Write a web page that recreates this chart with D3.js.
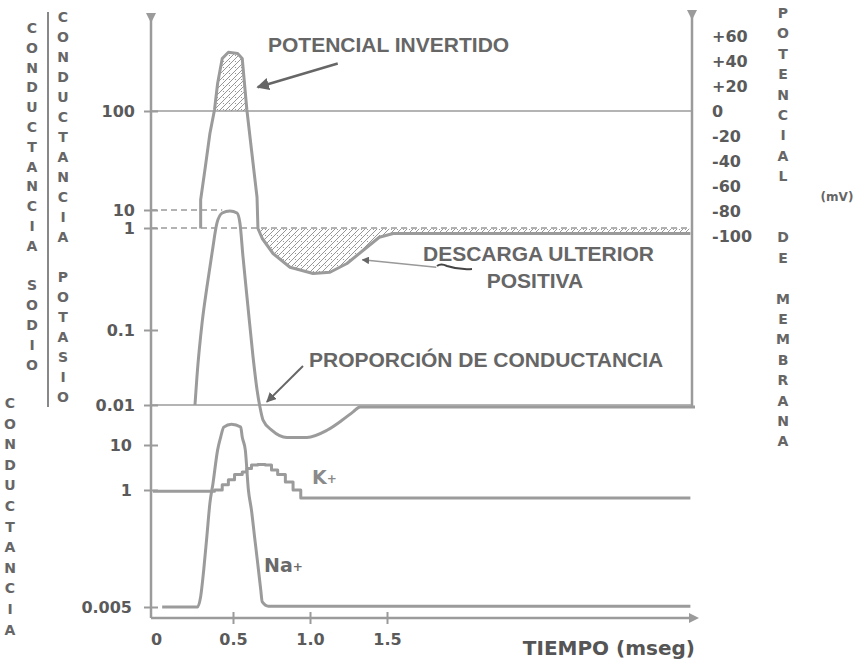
<!DOCTYPE html>
<html>
<head>
<meta charset="utf-8">
<title>Potencial de membrana y conductancias</title>
<style>
  body { margin: 0; background: #fff; }
  text { font-family: "DejaVu Sans", sans-serif; }
  .rotulo { font-family: "Liberation Sans", Arial, sans-serif; font-size: 21px; font-weight: bold; fill: #666; }
  .tick text { font-family: "DejaVu Sans", sans-serif; font-size: 16px; font-weight: bold; fill: #5a5a5a; }
  .letra { font-size: 14px; font-weight: bold; fill: #666; }
</style>
<script src="https://d3js.org/d3.v7.min.js"></script>
</head>
<body>
<svg id="viz"></svg>
<script>
// ---- datos ----
// tiempo (mseg)
var tiempoTicks = [0, 0.5, 1.0, 1.5];
var tiempoTxt = ["0", "0.5", "1.0", "1.5"];

// potencial de membrana (mV)
var tPotencial = [0.29, 0.29, 0.32, 0.35, 0.38, 0.40, 0.43, 0.47, 0.53, 0.56, 0.59, 0.62, 0.656, 0.662, 0.69, 0.76, 0.87, 1.02, 1.13, 1.24, 1.37, 1.45, 1.54, 1.63, 3.47];
var potencial  = [-94, -71, -45, -18, 1, 22, 42, 47, 46, 42, 1, -31, -69, -94, -102, -114, -125, -130, -129, -122, -109, -101, -98, -98, -98];
var reposo = -94;

// proporcion de conductancia (escala log)
var tProporcion = [0.253, 0.266, 0.30, 0.33, 0.364, 0.396, 0.43, 0.48, 0.526, 0.545, 0.565, 0.597, 0.63, 0.656, 0.675, 0.695, 0.753, 0.85, 0.98, 1.11, 1.21, 1.28, 1.325, 3.5];
var proporcion  = [0.01, 0.024, 0.12, 0.26, 0.57, 1.9, 6.8, 8.8, 6.8, 1.9, 0.52, 0.17, 0.044, 0.016, 0.0094, 0.0063, 0.0046, 0.0037, 0.0037, 0.0046, 0.0063, 0.0081, 0.0094, 0.0094];

// conductancia Na+ y K+
var tNa = [0.04, 0.27, 0.29, 0.31, 0.33, 0.35, 0.37, 0.40, 0.42, 0.44, 0.49, 0.55, 0.56, 0.58, 0.60, 0.62, 0.64, 0.66, 0.68, 0.69, 0.73, 3.47];
var gNa = [0.005, 0.005, 0.008, 0.027, 0.12, 0.55, 1.4, 7.7, 15, 25, 29, 25, 15, 7.7, 1, 0.4, 0.12, 0.037, 0.011, 0.0063, 0.0052, 0.0052];
var tK = [-0.02, 0.35, 0.38, 0.43, 0.47, 0.51, 0.56, 0.59, 0.62, 0.66, 0.71, 0.75, 0.79, 0.84, 0.89, 0.94, 3.47];
var gK = [0.95, 0.95, 1.0, 1.3, 1.7, 2.2, 2.5, 3.0, 3.6, 3.7, 3.6, 2.8, 2.2, 1.5, 1.0, 0.7, 0.7];

// marcas de los ejes
var ticksProporcion = [100, 10, 1, 0.1, 0.01];
var ticksProporcionTxt = ["100", "10", "1", "0.1", "0.01"];
var ticksMV = [60, 40, 20, 0, -20, -40, -60, -80, -100];
var ticksMVTxt = ["+60", "+40", "+20", "0", "-20", "-40", "-60", "-80", "-100"];
var ticksCond = [10, 1, 0.005];
var ticksCondTxt = ["10", "1", "0.005"];

// ---- dibujo ----
var width = 863, height = 665;
var gris = "#9b9b9b";
var svg = d3.select("#viz").attr("width", width).attr("height", height);

var x = d3.scaleLinear().domain([0, 3.5]).range([156, 695]);
var yProp = d3.scaleLog().domain([0.01, 0.1, 1, 10, 100]).range([405, 330, 228, 210, 111]);
var yMV = d3.scaleLinear().domain([-100, 60]).range([236, 36]);
var yCond = d3.scaleLog().domain([0.005, 1, 10]).range([607, 490, 445]);

var ejeX = 151, ejeDer = 692, ejeAbajo = 618;

var defs = svg.append("defs");
var pat = defs.append("pattern").attr("id", "rayado")
  .attr("patternUnits", "userSpaceOnUse").attr("width", 6).attr("height", 6);
pat.append("path").attr("d", "M-1,1 l2,-2 M0,6 l6,-6 M5,7 l2,-2")
  .attr("stroke", "#8a8a8a").attr("stroke-width", 0.9);
pat.append("circle").attr("cx", 1.5).attr("cy", 1.5).attr("r", 0.6).attr("fill", "#888");

defs.append("marker").attr("id", "punta").attr("viewBox", "0 0 10 10")
  .attr("refX", 9).attr("refY", 5).attr("markerWidth", 5).attr("markerHeight", 5)
  .attr("orient", "auto-start-reverse")
  .append("path").attr("d", "M0,0 L10,5 L0,10 z").attr("fill", "#666");
defs.append("marker").attr("id", "flecha").attr("viewBox", "0 0 10 10")
  .attr("refX", 5).attr("refY", 5).attr("markerWidth", 4).attr("markerHeight", 4)
  .attr("orient", "auto")
  .append("path").attr("d", "M0,0 L10,5 L0,10 z").attr("fill", gris);

// clips para el rayado
defs.append("clipPath").attr("id", "clipArriba").append("rect")
  .attr("x", 0).attr("y", 0).attr("width", width).attr("height", yMV(0));
defs.append("clipPath").attr("id", "clipAbajo").append("rect")
  .attr("x", x(0.6)).attr("y", yMV(reposo)).attr("width", width).attr("height", 200);

var datosPot = tPotencial.map(function(t, i) { return {t: t, v: potencial[i]}; });
var datosProp = tProporcion.map(function(t, i) { return {t: t, v: proporcion[i]}; });
var datosNa = tNa.map(function(t, i) { return {t: t, v: gNa[i]}; });
var datosK = tK.map(function(t, i) { return {t: t, v: gK[i]}; });

// lineas de referencia
svg.append("line").attr("x1", ejeX).attr("x2", ejeDer)
  .attr("y1", yProp(100)).attr("y2", yProp(100))
  .attr("stroke", gris).attr("stroke-width", 1.5);
svg.append("line").attr("x1", ejeX).attr("x2", ejeDer)
  .attr("y1", yProp(0.01)).attr("y2", yProp(0.01))
  .attr("stroke", gris).attr("stroke-width", 1.5);
svg.append("line").attr("x1", ejeX).attr("x2", ejeDer)
  .attr("y1", yProp(1)).attr("y2", yProp(1))
  .attr("stroke", gris).attr("stroke-width", 1.5).attr("stroke-dasharray", "6,4");
svg.append("line").attr("x1", ejeX).attr("x2", x(0.43))
  .attr("y1", yProp(10)).attr("y2", yProp(10))
  .attr("stroke", gris).attr("stroke-width", 1.5).attr("stroke-dasharray", "6,4");

// rayado del potencial
var areaArriba = d3.area().x(function(d) { return x(d.t); })
  .y0(yMV(0)).y1(function(d) { return yMV(d.v); });
var areaAbajo = d3.area().x(function(d) { return x(d.t); })
  .y0(yMV(reposo)).y1(function(d) { return yMV(d.v); });
svg.append("path").datum(datosPot).attr("d", areaArriba)
  .attr("fill", "url(#rayado)").attr("clip-path", "url(#clipArriba)");
svg.append("path").datum(datosPot.filter(function(d) { return d.t > 0.6; })).attr("d", areaAbajo)
  .attr("fill", "url(#rayado)").attr("clip-path", "url(#clipAbajo)");

// curvas
var lineaPot = d3.line().x(function(d) { return x(d.t); }).y(function(d) { return yMV(d.v); });
var lineaProp = d3.line().x(function(d) { return x(d.t); }).y(function(d) { return yProp(d.v); })
  .curve(d3.curveMonotoneX);
var lineaNa = d3.line().x(function(d) { return x(d.t); }).y(function(d) { return yCond(d.v); })
  .curve(d3.curveMonotoneX);
var lineaK = d3.line().x(function(d) { return x(d.t); }).y(function(d) { return yCond(d.v); })
  .curve(d3.curveStepAfter);

function curva(datos, gen) {
  svg.append("path").datum(datos).attr("d", gen)
    .attr("fill", "none").attr("stroke", gris).attr("stroke-width", 3)
    .attr("stroke-linejoin", "round");
}
curva(datosPot, lineaPot);
curva(datosProp, lineaProp);
curva(datosNa, lineaNa);
curva(datosK, lineaK);

// ejes
var gIzq = svg.append("g").attr("transform", "translate(" + ejeX + ",0)")
  .call(d3.axisLeft(yProp).tickValues(ticksProporcion)
    .tickFormat(function(d, i) { return ticksProporcionTxt[i]; })
    .tickSize(7).tickPadding(9));
var gIzq2 = svg.append("g").attr("transform", "translate(" + ejeX + ",0)")
  .call(d3.axisLeft(yCond).tickValues(ticksCond)
    .tickFormat(function(d, i) { return ticksCondTxt[i]; })
    .tickSize(7).tickPadding(12));
var gDer = svg.append("g").attr("transform", "translate(" + ejeDer + ",0)")
  .call(d3.axisRight(yMV).tickValues(ticksMV)
    .tickFormat(function(d, i) { return ticksMVTxt[i]; })
    .tickSize(0).tickPadding(20));
var gAbajo = svg.append("g").attr("transform", "translate(0," + ejeAbajo + ")")
  .call(d3.axisBottom(x).tickValues(tiempoTicks)
    .tickFormat(function(d, i) { return tiempoTxt[i]; })
    .tickSize(6).tickPadding(10));

[gIzq, gIzq2, gDer, gAbajo].forEach(function(g) {
  g.select(".domain").remove();
  g.selectAll(".tick line").attr("stroke", gris).attr("stroke-width", 2);
});
gIzq.selectAll(".tick line").attr("x1", 7);
gIzq2.selectAll(".tick line").attr("x1", 7);
gAbajo.selectAll(".tick line").attr("y1", -6);
gAbajo.selectAll(".tick").filter(function(d) { return d === 0; }).select("line").remove();
gAbajo.selectAll(".tick text").attr("font-size", 15);

svg.append("line").attr("x1", ejeX).attr("x2", ejeX).attr("y1", 18).attr("y2", ejeAbajo)
  .attr("stroke", gris).attr("stroke-width", 2.5).attr("marker-start", "url(#flecha)");
svg.append("line").attr("x1", ejeDer).attr("x2", ejeDer).attr("y1", 15).attr("y2", yProp(0.01) + 3)
  .attr("stroke", gris).attr("stroke-width", 2.5).attr("marker-start", "url(#flecha)");
svg.append("line").attr("x1", ejeX).attr("x2", 694).attr("y1", ejeAbajo).attr("y2", ejeAbajo)
  .attr("stroke", gris).attr("stroke-width", 2.5).attr("marker-end", "url(#flecha)");

// rotulos verticales
function columna(txt, cx, y0, paso) {
  svg.append("g").selectAll("text").data(txt.split(""))
    .join("text").attr("class", "letra")
    .attr("x", cx).attr("y", function(d, i) { return y0 + i * paso; })
    .attr("text-anchor", "middle").attr("dominant-baseline", "central")
    .text(function(d) { return d; });
}
columna("CONDUCTANCIA SODIO", 32, 28, 19.8);
columna("CONDUCTANCIA POTASIO", 63, 17, 20);
columna("CONDUCTANCIA", 10, 403, 20.6);
columna("POTENCIAL  DE MEMBRANA", 783, 13, 20.4);
svg.append("line").attr("x1", 48).attr("x2", 48).attr("y1", 12).attr("y2", 407)
  .attr("stroke", "#888").attr("stroke-width", 2);
svg.append("text").attr("x", 837).attr("y", 197).attr("text-anchor", "middle")
  .attr("dominant-baseline", "central").attr("font-size", 12).attr("font-weight", "bold")
  .attr("fill", "#666").text("(mV)");

// anotaciones
svg.append("text").attr("class", "rotulo").attr("x", 268).attr("y", 52).text("POTENCIAL INVERTIDO");
svg.append("line").attr("x1", x(1.18)).attr("y1", yMV(38)).attr("x2", x(0.66)).attr("y2", yMV(19))
  .attr("stroke", "#666").attr("stroke-width", 2.5).attr("marker-end", "url(#punta)");

svg.append("text").attr("class", "rotulo").attr("x", 423).attr("y", 261).text("DESCARGA ULTERIOR");
svg.append("text").attr("class", "rotulo").attr("x", 535).attr("y", 288)
  .attr("text-anchor", "middle").text("POSITIVA");
svg.append("line").attr("x1", x(1.82)).attr("y1", yMV(-125)).attr("x2", x(1.34)).attr("y2", yMV(-119))
  .attr("stroke", "#999").attr("stroke-width", 1.5).attr("marker-end", "url(#punta)");
svg.append("path").attr("d", "M437,266 q4,-3 10,0 q12,4 25,3")
  .attr("fill", "none").attr("stroke", "#444").attr("stroke-width", 2);

svg.append("text").attr("class", "rotulo").attr("x", 309).attr("y", 367).text("PROPORCIÓN DE CONDUCTANCIA");
svg.append("line").attr("x1", 303).attr("y1", 366).attr("x2", x(0.72)).attr("y2", yProp(0.011))
  .attr("stroke", "#666").attr("stroke-width", 2).attr("marker-end", "url(#punta)");

var k = svg.append("text").attr("x", 312).attr("y", 484).attr("font-size", 19)
  .attr("font-weight", "bold").attr("fill", "#8a8a8a");
k.append("tspan").text("K");
k.append("tspan").attr("font-size", 12).attr("dy", -1).text("+");
var na = svg.append("text").attr("x", 264).attr("y", 572).attr("font-size", 19)
  .attr("font-weight", "bold").attr("fill", "#6a6a6a");
na.append("tspan").text("Na");
na.append("tspan").attr("font-size", 12).attr("dy", -1).text("+");

svg.append("text").attr("x", 695).attr("y", 655).attr("text-anchor", "end")
  .attr("font-size", 20).attr("font-weight", "bold").attr("fill", "#555")
  .text("TIEMPO (mseg)");
</script>
</body>
</html>
